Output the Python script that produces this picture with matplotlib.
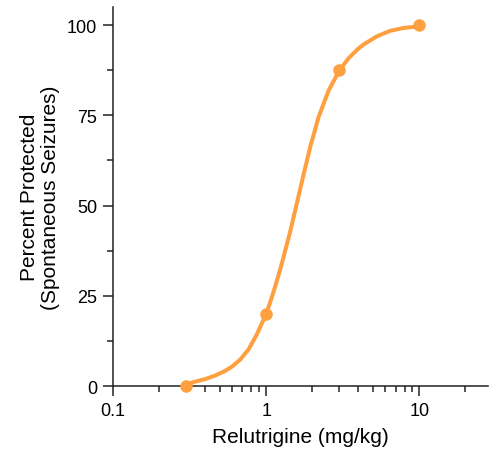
import numpy as np
import matplotlib
matplotlib.use('Agg')
import matplotlib.pyplot as plt
from matplotlib.ticker import LogLocator, FixedLocator, FixedFormatter

plt.rcParams['font.family'] = ['Liberation Sans', 'DejaVu Sans']

# Observed data points
dose = [0.3, 1, 3, 10]
protected = [0, 20, 87.5, 100]

# Fitted dose-response curve
curve_dose = [0.300, 0.344, 0.399, 0.465, 0.540, 0.604, 0.676, 0.766, 0.869, 1.0,
              1.062, 1.146, 1.259, 1.429, 1.578, 1.746, 1.941, 2.198, 2.553, 3.0,
              3.451, 3.981, 4.325, 5.291, 6.464, 7.889, 10.0]
curve_pct = [0.5, 1.2, 1.9, 2.9, 4.2, 5.5, 7.3, 10.1, 14.3, 20.0,
             23.2, 27.6, 33.6, 42.5, 50.2, 58.2, 66.3, 74.5, 81.8, 87.4,
             90.8, 93.4, 94.6, 96.9, 98.4, 99.2, 99.6]

y_ticks = [0, 25, 50, 75, 100]
x_ticks = [0.1, 1, 10]
x_labels = ['0.1', '1', '10']

color = '#FFA040'

fig = plt.figure(figsize=(4.9, 4.56), dpi=100)
ax = fig.add_axes([0.2306, 0.1513, 0.765, 0.8312])

ax.plot(curve_dose, curve_pct, color=color, lw=2.9, solid_capstyle='round',
        solid_joinstyle='round', zorder=3)
ax.plot(dose, protected, 'o', color=color, ms=8, zorder=4, clip_on=False)

ax.set_xscale('log')
ax.set_xlim(0.1, 28)
ax.set_ylim(0, 105)

ax.xaxis.set_major_locator(FixedLocator(x_ticks))
ax.xaxis.set_major_formatter(FixedFormatter(x_labels))
ax.xaxis.set_minor_locator(LogLocator(base=10, subs=np.arange(2, 10)))
ax.xaxis.set_minor_formatter(plt.NullFormatter())
ax.set_yticks(y_ticks)
ax.set_yticks([12.5, 37.5, 62.5, 87.5], minor=True)

for s in ['top', 'right']:
    ax.spines[s].set_visible(False)
for s in ['left', 'bottom']:
    ax.spines[s].set_linewidth(1.1)
    ax.spines[s].set_color('#222222')

ax.tick_params(which='major', length=7.5, width=1.1, color='#222222', labelsize=13, pad=4)
ax.tick_params(which='minor', length=4, width=1.1, color='#222222')

ax.set_xlabel('Relutrigine (mg/kg)', fontsize=15, labelpad=6)
ax.set_ylabel('Percent Protected\n(Spontaneous Seizures)', fontsize=15, linespacing=1.15)
ax.yaxis.set_label_coords(-0.142, 0.5)

fig.savefig('out.png', dpi=100)
